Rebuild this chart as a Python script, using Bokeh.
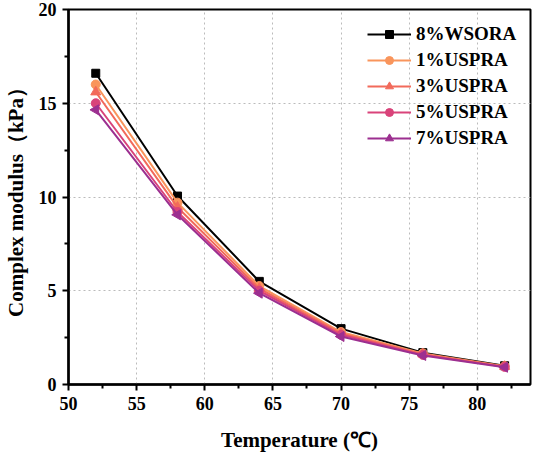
import math
from bokeh.plotting import figure
from bokeh.models import Range1d, FixedTicker, Legend, LegendItem
from bokeh.embed import file_html
from bokeh.resources import INLINE

temperature = [52, 58, 64, 70, 76, 82]
wsora8 = [16.6, 10.05, 5.5, 2.98, 1.7, 1.0]
uspra1 = [16.0, 9.7, 5.25, 2.8, 1.66, 0.98]
uspra3 = [15.6, 9.45, 5.12, 2.72, 1.62, 0.96]
uspra5 = [15.0, 9.2, 5.0, 2.65, 1.58, 0.94]
uspra7 = [14.65, 9.05, 4.87, 2.56, 1.55, 0.92]
labels = ["8%WSORA", "1%USPRA", "3%USPRA", "5%USPRA", "7%USPRA"]
colors = ["#000000", "#F9955C", "#F26A5B", "#D9437A", "#9C2F90"]
markers = ["square", "circle", "triangle", "circle", "triangle"]
angles = [0, 0, 0, 0, math.pi / 2]
sizes = [8, 9, 10, 9, 10]
series = [wsora8, uspra1, uspra3, uspra5, uspra7]

FONT = "Liberation Serif"

p = figure(width=534, height=455, output_backend="svg", toolbar_location=None,
           x_range=Range1d(50, 83.9), y_range=Range1d(0, 20),
           min_border_left=61, min_border_right=4, min_border_top=9, min_border_bottom=71)
p.background_fill_color = "white"
p.outline_line_color = "black"
p.outline_line_width = 2

items = []
for vals, lab, col, mk, ang, sz in zip(series, labels, colors, markers, angles, sizes):
    r1 = p.line(temperature, vals, line_color=col, line_width=2)
    r2 = p.scatter(temperature, vals, marker=mk, angle=ang, size=sz,
                   fill_color=col, line_color=col)
    items.append(LegendItem(label=lab, renderers=[r1, r2]))

legend = Legend(items=items, location=(299, 235), border_line_color=None,
                background_fill_alpha=0, padding=0, spacing=4,
                glyph_width=44, glyph_height=20, label_height=20,
                label_standoff=5, label_text_font=FONT,
                label_text_font_style="bold", label_text_font_size="19px",
                label_text_color="black")
p.add_layout(legend)

for ax in (p.xaxis[0], p.yaxis[0]):
    ax.axis_line_width = 2.5
    ax.axis_line_color = "black"
    ax.major_tick_line_width = 2
    ax.minor_tick_line_width = 2
    ax.major_tick_line_color = "black"
    ax.minor_tick_line_color = "black"
    ax.major_tick_in = 0
    ax.major_tick_out = 6
    ax.minor_tick_in = 0
    ax.minor_tick_out = 4
    ax.major_label_standoff = 6
    ax.major_label_text_font = FONT
    ax.major_label_text_font_style = "bold"
    ax.major_label_text_font_size = "18px"
    ax.major_label_text_color = "black"
    ax.axis_label_text_font = FONT
    ax.axis_label_text_font_style = "bold"
    ax.axis_label_text_font_size = "21px"
    ax.axis_label_text_color = "black"

p.xaxis.ticker = FixedTicker(ticks=[50, 55, 60, 65, 70, 75, 80],
                             minor_ticks=[52.5, 57.5, 62.5, 67.5, 72.5, 77.5, 82.5])
p.yaxis.ticker = FixedTicker(ticks=[0, 5, 10, 15, 20],
                             minor_ticks=[2.5, 7.5, 12.5, 17.5])
p.xaxis.axis_label = "Temperature (℃)"
p.yaxis.axis_label = "Complex modulus（kPa）"
p.xaxis.axis_label_standoff = 15
p.yaxis.axis_label_standoff = 8

for g in (p.xgrid[0], p.ygrid[0]):
    g.grid_line_color = "#bbbbbb"
    g.grid_line_dash = "2 3"
    g.grid_line_width = 1

open("out.html", "w").write(file_html(p, INLINE))
